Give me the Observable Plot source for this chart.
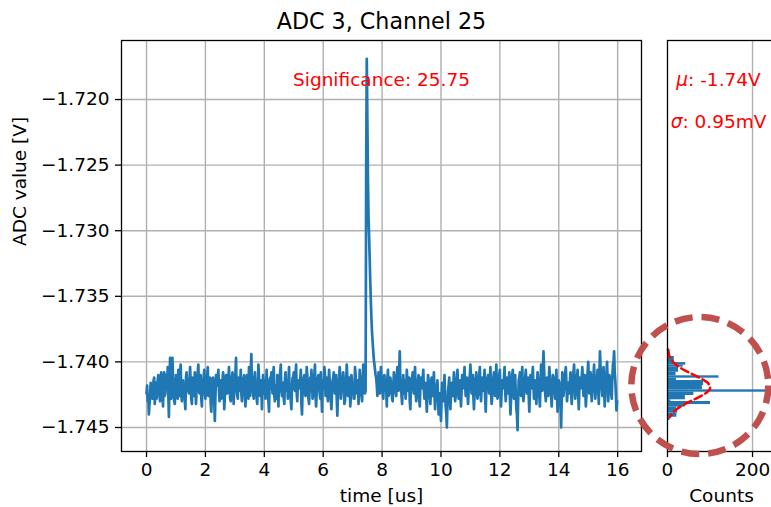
<!DOCTYPE html>
<html><head><meta charset="utf-8">
<script src="https://cdn.jsdelivr.net/npm/d3@7"></script>
<script src="https://cdn.jsdelivr.net/npm/@observablehq/plot@0.6"></script>
<style>
body{margin:0;background:#fff;}
#fig{position:relative;width:771px;height:507px;overflow:hidden;background:#fff;}
#fig svg{position:absolute;top:0;}
</style></head><body><div id="fig"></div>
<script>
const title = "ADC 3, Channel 25";
const xLabel = "time [us]";
const yLabel = "ADC value [V]";
const histLabel = "Counts";
const sampleStep = 0.02; // us between samples
// samples at even positions (t = 0, 0.04, 0.08, ...)
const adcEven = [
-1.7424,-1.7430,-1.7440,-1.7426,-1.7418,-1.7428,-1.7414,-1.7432,-1.7416,-1.7422,-1.7410,-1.7426,-1.7412,-1.7420,-1.7434,-1.7408,-1.7424,-1.7414,-1.7404,-1.7442,
-1.7397,-1.7428,-1.7397,-1.7416,-1.7432,-1.7410,-1.7420,-1.7406,-1.7426,-1.7402,-1.7430,-1.7414,-1.7418,-1.7436,-1.7408,-1.7416,-1.7424,-1.7404,-1.7428,-1.7412,
-1.7420,-1.7408,-1.7432,-1.7414,-1.7402,-1.7424,-1.7410,-1.7434,-1.7418,-1.7406,-1.7428,-1.7416,-1.7404,-1.7426,-1.7412,-1.7438,-1.7414,-1.7420,-1.7445,-1.7410,
-1.7418,-1.7406,-1.7430,-1.7414,-1.7424,-1.7408,-1.7436,-1.7416,-1.7410,-1.7422,-1.7404,-1.7428,-1.7418,-1.7408,-1.7432,-1.7414,-1.7397,-1.7426,-1.7412,-1.7422,
-1.7406,-1.7430,-1.7416,-1.7410,-1.7434,-1.7414,-1.7420,-1.7404,-1.7426,-1.7394,-1.7412,-1.7428,-1.7408,-1.7418,-1.7432,-1.7402,-1.7424,-1.7414,-1.7436,-1.7410,
-1.7416,-1.7428,-1.7406,-1.7420,-1.7438,-1.7412,-1.7408,-1.7424,-1.7404,-1.7430,-1.7418,-1.7410,-1.7434,-1.7414,-1.7402,-1.7426,-1.7416,-1.7432,-1.7408,-1.7420,
-1.7428,-1.7404,-1.7418,-1.7436,-1.7412,-1.7408,-1.7422,-1.7402,-1.7430,-1.7414,-1.7420,-1.7406,-1.7440,-1.7416,-1.7410,-1.7426,-1.7404,-1.7422,-1.7432,-1.7412,
-1.7406,-1.7428,-1.7418,-1.7402,-1.7434,-1.7414,-1.7410,-1.7424,-1.7408,-1.7438,-1.7416,-1.7404,-1.7426,-1.7412,-1.7430,-1.7406,-1.7420,-1.7436,-1.7414,-1.7408,
-1.7424,-1.7410,-1.7441,-1.7416,-1.7404,-1.7428,-1.7414,-1.7408,-1.7432,-1.7418,-1.7402,-1.7426,-1.7412,-1.7434,-1.7410,-1.7418,-1.7428,-1.7404,-1.7422,-1.7414,
-1.7432,-1.7406,-1.7416,-1.7430,-1.7402,-1.7420,-1.7422,-1.7169,-1.7262,-1.7305,-1.7340,-1.7368,-1.7385,-1.7398,-1.7406,-1.7412,-1.7426,-1.7408,-1.7424,-1.7404,
-1.7414,-1.7428,-1.7410,-1.7418,-1.7434,-1.7406,-1.7424,-1.7412,-1.7420,-1.7430,-1.7408,-1.7416,-1.7426,-1.7404,-1.7422,-1.7392,-1.7414,-1.7432,-1.7410,-1.7418,
-1.7428,-1.7406,-1.7422,-1.7412,-1.7436,-1.7414,-1.7408,-1.7424,-1.7404,-1.7430,-1.7418,-1.7410,-1.7434,-1.7412,-1.7420,-1.7406,-1.7428,-1.7416,-1.7438,-1.7410,
-1.7418,-1.7432,-1.7412,-1.7426,-1.7408,-1.7436,-1.7420,-1.7414,-1.7440,-1.7424,-1.7445,-1.7416,-1.7430,-1.7410,-1.7434,-1.7450,-1.7422,-1.7412,-1.7436,-1.7416,
-1.7426,-1.7408,-1.7430,-1.7418,-1.7406,-1.7428,-1.7414,-1.7434,-1.7410,-1.7420,-1.7404,-1.7426,-1.7412,-1.7432,-1.7416,-1.7402,-1.7424,-1.7410,-1.7436,-1.7414,
-1.7408,-1.7428,-1.7418,-1.7404,-1.7430,-1.7412,-1.7422,-1.7406,-1.7438,-1.7414,-1.7410,-1.7424,-1.7404,-1.7432,-1.7418,-1.7408,-1.7426,-1.7402,-1.7428,-1.7416,
-1.7406,-1.7434,-1.7414,-1.7420,-1.7404,-1.7430,-1.7412,-1.7424,-1.7408,-1.7440,-1.7416,-1.7406,-1.7428,-1.7410,-1.7436,-1.7452,-1.7414,-1.7408,-1.7426,-1.7404,
-1.7430,-1.7418,-1.7406,-1.7424,-1.7412,-1.7438,-1.7410,-1.7420,-1.7404,-1.7428,-1.7414,-1.7432,-1.7408,-1.7418,-1.7434,-1.7402,-1.7422,-1.7392,-1.7416,-1.7430,
-1.7412,-1.7426,-1.7404,-1.7420,-1.7434,-1.7410,-1.7416,-1.7428,-1.7406,-1.7438,-1.7414,-1.7418,-1.7450,-1.7408,-1.7426,-1.7412,-1.7404,-1.7430,-1.7416,-1.7424,
-1.7408,-1.7432,-1.7414,-1.7402,-1.7428,-1.7418,-1.7406,-1.7436,-1.7412,-1.7420,-1.7404,-1.7426,-1.7410,-1.7434,-1.7416,-1.7400,-1.7424,-1.7408,-1.7430,-1.7414,
-1.7402,-1.7428,-1.7418,-1.7406,-1.7432,-1.7392,-1.7414,-1.7426,-1.7404,-1.7434,-1.7416,-1.7400,-1.7430,-1.7410,-1.7418,-1.7428,-1.7402,-1.7392,-1.7414,-1.7437
];
// samples at odd positions (t = 0.02, 0.06, 0.10, ...)
const adcOdd = [
-1.7418,-1.7426,-1.7432,-1.7416,-1.7422,-1.7420,-1.7412,-1.7424,-1.7428,-1.7414,-1.7418,-1.7430,-1.7408,-1.7422,-1.7416,-1.7426,-1.7410,-1.7420,-1.7424,-1.7414,
-1.7410,-1.7422,-1.7412,-1.7430,-1.7420,-1.7416,-1.7428,-1.7414,-1.7408,-1.7424,-1.7418,-1.7426,-1.7430,-1.7412,-1.7420,-1.7422,-1.7414,-1.7416,-1.7432,-1.7418,
-1.7426,-1.7416,-1.7420,-1.7408,-1.7422,-1.7414,-1.7428,-1.7418,-1.7412,-1.7424,-1.7420,-1.7410,-1.7426,-1.7418,-1.7432,-1.7424,-1.7412,-1.7430,-1.7426,-1.7416,
-1.7412,-1.7422,-1.7420,-1.7428,-1.7414,-1.7418,-1.7426,-1.7410,-1.7424,-1.7414,-1.7418,-1.7430,-1.7412,-1.7420,-1.7416,-1.7408,-1.7422,-1.7428,-1.7414,-1.7416,
-1.7424,-1.7418,-1.7412,-1.7426,-1.7420,-1.7410,-1.7428,-1.7416,-1.7408,-1.7418,-1.7424,-1.7414,-1.7422,-1.7428,-1.7416,-1.7412,-1.7426,-1.7420,-1.7418,-1.7424,
-1.7414,-1.7418,-1.7424,-1.7430,-1.7414,-1.7420,-1.7416,-1.7410,-1.7426,-1.7418,-1.7428,-1.7416,-1.7412,-1.7408,-1.7422,-1.7420,-1.7428,-1.7414,-1.7422,-1.7416,
-1.7414,-1.7426,-1.7430,-1.7418,-1.7412,-1.7420,-1.7410,-1.7424,-1.7416,-1.7420,-1.7414,-1.7432,-1.7422,-1.7412,-1.7424,-1.7418,-1.7410,-1.7428,-1.7420,-1.7422,
-1.7416,-1.7424,-1.7410,-1.7426,-1.7422,-1.7412,-1.7418,-1.7428,-1.7424,-1.7414,-1.7420,-1.7410,-1.7422,-1.7424,-1.7418,-1.7414,-1.7430,-1.7424,-1.7412,-1.7418,
-1.7418,-1.7428,-1.7426,-1.7412,-1.7410,-1.7422,-1.7420,-1.7414,-1.7430,-1.7416,-1.7412,-1.7424,-1.7418,-1.7426,-1.7416,-1.7420,-1.7428,-1.7410,-1.7424,-1.7414,
-1.7422,-1.7412,-1.7424,-1.7418,-1.7414,-1.7424,-1.7250,-1.7215,-1.7290,-1.7322,-1.7355,-1.7378,-1.7392,-1.7402,-1.7410,-1.7418,-1.7420,-1.7416,-1.7418,-1.7412,
-1.7424,-1.7414,-1.7422,-1.7420,-1.7412,-1.7426,-1.7418,-1.7416,-1.7428,-1.7420,-1.7414,-1.7422,-1.7410,-1.7416,-1.7408,-1.7414,-1.7426,-1.7418,-1.7424,-1.7414,
-1.7420,-1.7414,-1.7416,-1.7430,-1.7418,-1.7412,-1.7420,-1.7410,-1.7424,-1.7422,-1.7414,-1.7428,-1.7418,-1.7416,-1.7412,-1.7422,-1.7420,-1.7428,-1.7422,-1.7414,
-1.7426,-1.7420,-1.7418,-1.7416,-1.7426,-1.7424,-1.7418,-1.7428,-1.7432,-1.7434,-1.7428,-1.7424,-1.7420,-1.7426,-1.7440,-1.7432,-1.7418,-1.7426,-1.7424,-1.7422,
-1.7418,-1.7424,-1.7426,-1.7412,-1.7422,-1.7420,-1.7426,-1.7422,-1.7416,-1.7412,-1.7418,-1.7420,-1.7424,-1.7422,-1.7410,-1.7414,-1.7418,-1.7426,-1.7424,-1.7412,
-1.7422,-1.7424,-1.7410,-1.7422,-1.7420,-1.7416,-1.7414,-1.7428,-1.7422,-1.7412,-1.7418,-1.7414,-1.7424,-1.7426,-1.7412,-1.7418,-1.7414,-1.7422,-1.7424,-1.7410,
-1.7424,-1.7422,-1.7416,-1.7412,-1.7422,-1.7420,-1.7418,-1.7416,-1.7426,-1.7428,-1.7410,-1.7420,-1.7418,-1.7424,-1.7440,-1.7430,-1.7412,-1.7416,-1.7414,-1.7422,
-1.7424,-1.7412,-1.7416,-1.7418,-1.7426,-1.7424,-1.7414,-1.7412,-1.7418,-1.7422,-1.7424,-1.7420,-1.7414,-1.7426,-1.7416,-1.7414,-1.7408,-1.7404,-1.7424,-1.7420,
-1.7418,-1.7414,-1.7412,-1.7426,-1.7422,-1.7412,-1.7422,-1.7416,-1.7426,-1.7428,-1.7416,-1.7432,-1.7430,-1.7418,-1.7420,-1.7408,-1.7416,-1.7424,-1.7420,-1.7414,
-1.7422,-1.7424,-1.7408,-1.7414,-1.7422,-1.7412,-1.7424,-1.7420,-1.7416,-1.7412,-1.7414,-1.7418,-1.7422,-1.7426,-1.7408,-1.7412,-1.7416,-1.7422,-1.7422,-1.7410,
-1.7416,-1.7422,-1.7412,-1.7420,-1.7410,-1.7404,-1.7420,-1.7414,-1.7420,-1.7424,-1.7408,-1.7414,-1.7420,-1.7414,-1.7424,-1.7412,-1.7400,-1.7408,-1.7424,-1.7430
];
// histogram bins (V) and counts
const histLo = [-1.74447,-1.74422,-1.74391,-1.74371,-1.74345,-1.74325,-1.74302,-1.74289,-1.74256,-1.74231,-1.74213,-1.74180,-1.74142,-1.74124,-1.74106,-1.74079,-1.74040,-1.74025,-1.74005,-1.73959];
const histHi = [-1.74422,-1.74391,-1.74371,-1.74345,-1.74325,-1.74302,-1.74289,-1.74256,-1.74231,-1.74213,-1.74180,-1.74142,-1.74124,-1.74106,-1.74079,-1.74040,-1.74025,-1.74005,-1.73959,-1.73906];
const histCounts = [6,22,24,21,42,101,8,42,62,290,82,85,21,121,20,26,37,43,16,6];
// gaussian fit curve (V, counts)
const fitValues = [-1.73906,-1.73931,-1.73956,-1.73981,-1.74006,-1.74031,-1.74056,-1.74081,-1.74106,-1.74131,-1.74156,-1.74181,-1.74206,-1.74231,-1.74256,-1.74281,-1.74306,-1.74331,-1.74356,-1.74381,-1.74406,-1.74422];
const fitCounts = [1.1,2.3,4.5,8.4,14.6,23.6,35.7,50.4,66.4,81.6,93.6,100.2,100.1,93.2,81.1,65.8,49.8,35.2,23.2,14.3,8.2,5.5];
const xTicks = [0,2,4,6,8,10,12,14,16];
const yTicks = [-1.745,-1.740,-1.735,-1.730,-1.725,-1.720];
const countTicks = [0,200];
const significance = "25.75";
const muText = "-1.74V";
const sigmaText = "0.95mV";
// highlight circle annotation around histogram
const highlight = [{n:76, v:-1.7418}];

const FONT = '"DejaVu Sans", sans-serif';
const FS = 18.5;
const yDomain = [-1.74683, -1.7155];
const adcValues = [];
adcEven.forEach((v,i)=>{ adcValues.push(v); if (i < adcOdd.length) adcValues.push(adcOdd[i]); });
const trace = adcValues.map((v,i)=>({t:i*sampleStep, v}));
const bars = histLo.map((lo,i)=>({lo, hi:histHi[i], n:histCounts[i]}));
const fit = fitValues.map((v,i)=>({v, n:fitCounts[i]}));
const svgStyle = {background:"transparent", fontFamily:FONT, fontSize:FS+"px", color:"black", overflow:"visible"};

const main = Plot.plot({
  width:660, height:507,
  marginLeft:121, marginRight:19, marginTop:40, marginBottom:56,
  style:svgStyle,
  x:{domain:[-0.85,16.81]},
  y:{domain:yDomain},
  marks:[
    Plot.gridX(xTicks,{stroke:"#b0b0b0",strokeOpacity:1,strokeWidth:1.4}),
    Plot.gridY(yTicks,{stroke:"#b0b0b0",strokeOpacity:1,strokeWidth:1.4}),
    Plot.line(trace,{x:"t",y:"v",stroke:"#1f77b4",strokeWidth:2.7}),
    Plot.frame({stroke:"black",strokeWidth:1.3}),
    Plot.axisX(xTicks,{tickSize:6,tickPadding:5,fontSize:FS,strokeWidth:1.3,label:null}),
    Plot.axisY(yTicks,{tickSize:6,tickPadding:6,fontSize:FS,strokeWidth:1.3,tickFormat:".3f",label:null}),
    Plot.text([`Significance: ${significance}`],{text:d=>d,frameAnchor:"top",dy:40,lineAnchor:"middle",fill:"red",fontSize:FS,fontFamily:FONT}),
    Plot.text([title],{text:d=>d,frameAnchor:"top",dy:-19,lineAnchor:"middle",fontSize:22.2,fontFamily:FONT}),
    Plot.text([yLabel],{text:d=>d,frameAnchor:"left",dx:-101,rotate:-90,fontSize:FS,fontFamily:FONT}),
    Plot.text([xLabel],{text:d=>d,frameAnchor:"bottom",dy:45,lineAnchor:"middle",fontSize:FS,fontFamily:FONT})
  ]
});

const hist = Plot.plot({
  width:160, height:507,
  marginLeft:47, marginRight:5, marginTop:40, marginBottom:56,
  style:svgStyle,
  x:{domain:[0,254]},
  y:{domain:yDomain, axis:null},
  marks:[
    Plot.gridX([200],{stroke:"#b0b0b0",strokeOpacity:1,strokeWidth:1.4}),
    Plot.rect(bars,{x1:0,x2:"n",y1:"lo",y2:"hi",fill:"#1f77b4",clip:true}),
    Plot.line(fit,{x:"n",y:"v",stroke:"red",strokeWidth:2.5,strokeDasharray:"8,4"}),
    Plot.frame({stroke:"black",strokeWidth:1.3}),
    Plot.axisX(countTicks,{tickSize:6,tickPadding:5,fontSize:FS,strokeWidth:1.3,label:null}),
    Plot.text([histLabel],{text:d=>d,frameAnchor:"bottom",dy:45,lineAnchor:"middle",fontSize:FS,fontFamily:FONT}),
    Plot.text([`μ: ${muText}`],{text:d=>d,frameAnchor:"top",dy:40,dx:-3,lineAnchor:"middle",fill:"red",fontSize:FS,fontFamily:FONT}),
    Plot.text([`σ: ${sigmaText}`],{text:d=>d,frameAnchor:"top",dy:82,dx:-3,lineAnchor:"middle",fill:"red",fontSize:FS,fontFamily:FONT}),
    Plot.dot(highlight,{x:"n",y:"v",r:68.5,fill:"none",stroke:"#c0504d",strokeWidth:6.5,strokeDasharray:"18,9"})
  ]
});

const fig = document.getElementById("fig");
main.style.left = "0px";
hist.style.left = "620px";
fig.appendChild(main);
fig.appendChild(hist);

// italic greek symbols like matplotlib mathtext
d3.select(hist).selectAll("text").each(function(){
  const s = this.textContent;
  if (s.startsWith("μ:") || s.startsWith("σ:")) {
    const sym = s[0], rest = s.slice(1);
    this.textContent = "";
    d3.select(this).append("tspan").attr("font-style","italic").text(sym);
    d3.select(this).append("tspan").text(rest);
  }
});
</script></body></html>
